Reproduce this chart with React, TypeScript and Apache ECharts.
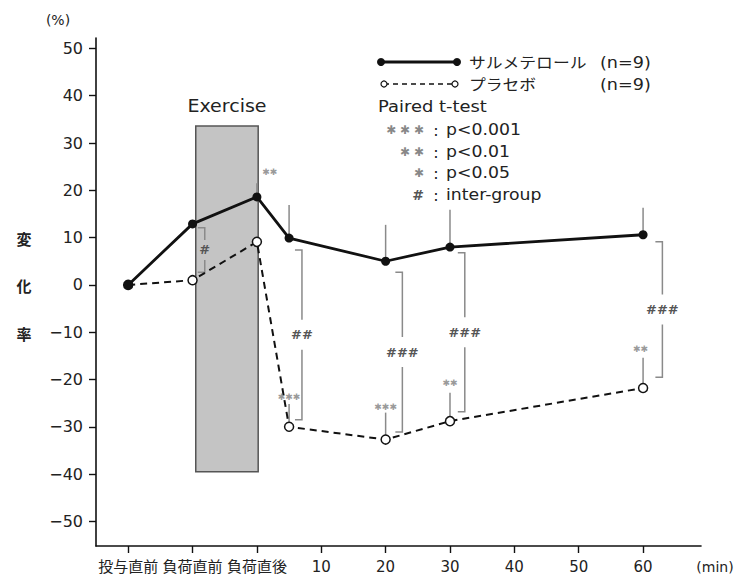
import React, { useEffect, useRef } from "react";
import * as echarts from "echarts";

// ---- data ----
const timePoints = [-20, -10, 0, 5, 20, 30, 60];
const salmeterol = [0, 12.9, 18.6, 9.9, 5.0, 8.0, 10.6];
const placebo = [0, 1.0, 9.1, -30.0, -32.7, -28.8, -21.8];
const salmeterolErrTop = [null, null, 21.5, 16.9, 12.7, 15.9, 16.3];
const placeboErrTop = [null, null, null, -25.2, -27.0, -22.8, -15.4];

const xTicks = [-20, -10, 0, 10, 20, 30, 40, 50, 60];
const xTickLabels: Record<string, string> = { "-20": "投与直前", "-10": "負荷直前", "0": "負荷直後" };
const yTicks = [-50, -40, -30, -20, -10, 0, 10, 20, 30, 40, 50];

// significance marks (paired t-test)
const sigX = [2.0, 5, 20, 30, 59.6];
const sigY = [23.9, -23.7, -25.8, -20.7, -13.5];
const sigText = ["✱✱", "✱✱✱", "✱✱✱", "✱✱", "✱✱"];

// inter-group brackets
const bracketX = [-8.1, 7.0, 22.6, 32.3, 63.0];
const bracketTop = [12.1, 7.4, 2.7, 6.8, 9.1];
const bracketBottom = [2.7, -28.5, -31.1, -26.8, -19.5];
const bracketText = ["#", "##", "###", "###", "###"];

// exercise period box
const exerciseX = [-9.5, 0.2];
const exerciseY = [33.6, -39.5];

const FONT = "'DejaVu Sans', 'Noto Sans CJK JP', sans-serif";
const JFONT = "'Noto Sans CJK JP', sans-serif";

export default function App() {
  const ref = useRef<HTMLDivElement>(null);
  useEffect(() => {
    if (!ref.current) return;
    const chart = echarts.init(ref.current, null, { renderer: "svg" });
    const errData: number[][] = [];
    timePoints.forEach((t, i) => {
      if (salmeterolErrTop[i] != null) errData.push([t, salmeterol[i], salmeterolErrTop[i] as number]);
      if (placeboErrTop[i] != null) errData.push([t, placebo[i], placeboErrTop[i] as number]);
    });
    const txt = (x: number, y: number, text: string, font: string, extra: any = {}, sx = 1) => ({
      type: "text",
      x,
      y,
      scaleX: sx,
      style: { text, fill: "#222", font, verticalAlign: "middle", ...extra },
    });
    const LAT = `16px ${FONT}`;
    const option: any = {
      animation: false,
      grid: { left: 96, right: 33, top: 38, bottom: 35, containLabel: false, outerBoundsMode: "none" },
      xAxis: {
        type: "value",
        min: -25,
        max: 69,
        splitLine: { show: false },
        axisLine: { onZero: false, lineStyle: { color: "#111", width: 1.6 } },
        axisTick: { customValues: xTicks, length: 7, lineStyle: { color: "#111", width: 1.4 } },
        axisLabel: {
          customValues: xTicks,
          margin: 13,
          color: "#222",
          fontSize: 15,
          fontFamily: FONT,
          formatter: (v: number) => xTickLabels[String(v)] ?? String(v),
        },
      },
      yAxis: {
        type: "value",
        min: -55.2,
        max: 52.2,
        splitLine: { show: false },
        axisLine: { show: true, onZero: false, lineStyle: { color: "#111", width: 1.6 } },
        axisTick: { show: true, customValues: yTicks, length: 7, lineStyle: { color: "#111", width: 1.4 } },
        axisLabel: {
          customValues: yTicks,
          margin: 13,
          color: "#222",
          fontSize: 16,
          fontFamily: FONT,
          formatter: (v: number) => (v < 0 ? "−" + Math.abs(v) : String(v)),
        },
      },
      series: [
        {
          type: "custom",
          z: 1,
          data: [[exerciseX[0], exerciseX[1], exerciseY[0], exerciseY[1]]],
          encode: { x: [0, 1], y: [2, 3] },
          renderItem: (params: any, api: any) => {
            const p0 = api.coord([api.value(0), api.value(2)]);
            const p1 = api.coord([api.value(1), api.value(3)]);
            return {
              type: "group",
              children: [
                {
                  type: "rect",
                  shape: { x: p0[0], y: p0[1], width: p1[0] - p0[0], height: p1[1] - p0[1] },
                  style: { fill: "#c4c4c4", stroke: "#555", lineWidth: 1.5 },
                },
                {
                  type: "text",
                  x: (p0[0] + p1[0]) / 2,
                  y: p0[1] - 20,
                  scaleX: 1.12,
                  style: { text: "Exercise", fill: "#222", font: `17px ${FONT}`, align: "center", verticalAlign: "middle" },
                },
              ],
            };
          },
        },
        {
          type: "custom",
          z: 2,
          data: errData,
          encode: { x: 0, y: [1, 2] },
          renderItem: (params: any, api: any) => {
            const a = api.coord([api.value(0), api.value(1)]);
            const b = api.coord([api.value(0), api.value(2)]);
            return {
              type: "line",
              shape: { x1: a[0], y1: a[1], x2: b[0], y2: b[1] },
              style: { stroke: "#8a8a8a", lineWidth: 1.5 },
            };
          },
        },
        {
          type: "custom",
          z: 2,
          data: bracketX.map((x, i) => [x, bracketTop[i], bracketBottom[i]]),
          encode: { x: 0, y: [1, 2] },
          renderItem: (params: any, api: any) => {
            const i = params.dataIndex;
            const t = api.coord([api.value(0), api.value(1)]);
            const b = api.coord([api.value(0), api.value(2)]);
            const x = t[0];
            const mid = (t[1] + b[1]) / 2;
            const gap = bracketText[i].length > 1 ? 15 : 10;
            return {
              type: "group",
              children: [
                { type: "polyline", shape: { points: [[x - 7, t[1]], [x, t[1]], [x, mid - gap]] }, style: { stroke: "#8a8a8a", lineWidth: 1.5, fill: null } },
                { type: "polyline", shape: { points: [[x, mid + gap], [x, b[1]], [x - 7, b[1]]] }, style: { stroke: "#8a8a8a", lineWidth: 1.5, fill: null } },
                {
                  type: "text",
                  x: x,
                  y: mid,
                  style: { text: bracketText[i], fill: "#555", font: `bold 13px ${FONT}`, align: "center", verticalAlign: "middle" },
                },
              ],
            };
          },
        },
        {
          type: "custom",
          z: 2,
          data: sigX.map((x, i) => [x, sigY[i]]),
          encode: { x: 0, y: 1 },
          renderItem: (params: any, api: any) => {
            const p = api.coord([api.value(0), api.value(1)]);
            return {
              type: "text",
              x: p[0],
              y: p[1],
              style: { text: sigText[params.dataIndex], fill: "#9a9a9a", font: `9px ${FONT}`, align: "center", verticalAlign: "middle" },
            };
          },
        },
        {
          name: "プラセボ",
          type: "line",
          z: 3,
          data: timePoints.map((t, i) => [t, placebo[i]]),
          symbol: "circle",
          symbolSize: 9,
          lineStyle: { color: "#111", width: 2, type: [7, 5] },
          itemStyle: { color: "#fff", borderColor: "#111", borderWidth: 1.5 },
        },
        {
          name: "サルメテロール",
          type: "line",
          z: 4,
          data: timePoints.map((t, i) => [t, salmeterol[i]]),
          symbol: "circle",
          symbolSize: 9,
          lineStyle: { color: "#111", width: 2.8 },
          itemStyle: { color: "#111" },
        },
      ],
      graphic: [
        txt(58, 20, "(%)", `14px ${FONT}`, { align: "center" }),
        txt(24, 238, "変", `bold 15px ${JFONT}`, { align: "center" }),
        txt(24, 285, "化", `bold 15px ${JFONT}`, { align: "center" }),
        txt(24, 333, "率", `bold 15px ${JFONT}`, { align: "center" }),
        txt(715, 567, "(min)", `14px ${FONT}`, { align: "center" }),
        // legend
        { type: "line", shape: { x1: 381, y1: 62, x2: 457, y2: 62 }, style: { stroke: "#111", lineWidth: 2.8 } },
        { type: "circle", shape: { cx: 381, cy: 62, r: 4 }, style: { fill: "#111" } },
        { type: "circle", shape: { cx: 457, cy: 62, r: 4 }, style: { fill: "#111" } },
        txt(469, 62, "サルメテロール", `15px ${JFONT}`, {}, 1.12),
        txt(600, 62, "(n=9)", LAT, {}, 1.1),
        { type: "line", shape: { x1: 384, y1: 84, x2: 455, y2: 84 }, style: { stroke: "#111", lineWidth: 1.6, lineDash: [5, 4] } },
        { type: "circle", shape: { cx: 384, cy: 84, r: 3 }, style: { fill: "#fff", stroke: "#111", lineWidth: 1.2 } },
        { type: "circle", shape: { cx: 455, cy: 84, r: 3 }, style: { fill: "#fff", stroke: "#111", lineWidth: 1.2 } },
        txt(469, 84, "プラセボ", `15px ${JFONT}`, {}, 1.12),
        txt(600, 84, "(n=9)", LAT, {}, 1.1),
        txt(378, 106, "Paired t-test", LAT, {}, 1.12),
        txt(424, 130, "✱ ✱ ✱", `12px ${FONT}`, { align: "right", fill: "#888" }),
        txt(424, 152, "✱ ✱", `12px ${FONT}`, { align: "right", fill: "#888" }),
        txt(424, 173, "✱", `12px ${FONT}`, { align: "right", fill: "#888" }),
        txt(424, 195, "#", `bold 14px ${FONT}`, { align: "right", fill: "#555" }),
        txt(436, 130, ":", LAT, { align: "center" }),
        txt(436, 152, ":", LAT, { align: "center" }),
        txt(436, 173, ":", LAT, { align: "center" }),
        txt(436, 195, ":", LAT, { align: "center" }),
        txt(446, 130, "p<0.001", LAT, {}, 1.08),
        txt(446, 152, "p<0.01", LAT, {}, 1.08),
        txt(446, 173, "p<0.05", LAT, {}, 1.08),
        txt(446, 195, "inter-group", LAT, {}, 1.08),
      ],
    };
    chart.setOption(option);
    return () => chart.dispose();
  }, []);
  return <div ref={ref} style={{ position: "absolute", left: 0, top: 0, width: 734, height: 581, background: "#fff" }} />;
}
